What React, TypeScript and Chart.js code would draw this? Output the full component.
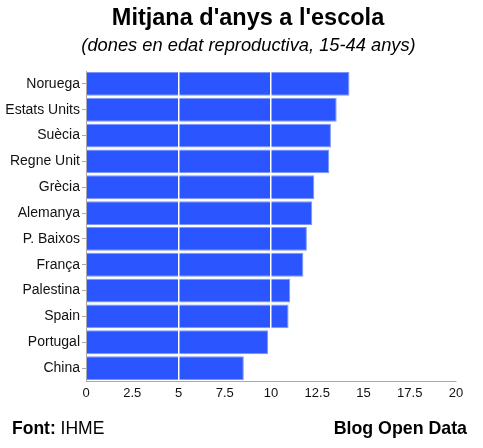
import React, { useEffect, useRef } from "react";
import { Chart, registerables } from "chart.js";

Chart.register(...registerables);

const TITLE = "Mitjana d'anys a l'escola";
const SUBTITLE = "(dones en edat reproductiva, 15-44 anys)";
const SOURCE_LABEL = "Font:";
const SOURCE = "IHME";
const CREDIT = "Blog Open Data";

const countries = [
  "Noruega",
  "Estats Units",
  "Suècia",
  "Regne Unit",
  "Grècia",
  "Alemanya",
  "P. Baixos",
  "França",
  "Palestina",
  "Spain",
  "Portugal",
  "China",
];
const years = [14.24, 13.55, 13.24, 13.15, 12.34, 12.23, 11.94, 11.75, 11.04, 10.95, 9.85, 8.53];

const FONT = "'Liberation Sans', Arial, Helvetica, sans-serif";

const textPlugin = {
  id: "texts",
  afterDraw(chart: any) {
    const c = chart.ctx;
    const w = chart.width;
    c.save();
    c.fillStyle = "#000";
    c.textBaseline = "middle";
    c.textAlign = "center";
    c.font = `bold 23.5px ${FONT}`;
    c.fillText(TITLE, 248, 19);
    c.font = `italic 18.3px ${FONT}`;
    c.fillText(SUBTITLE, 248.5, 46);
    c.textAlign = "left";
    c.font = `bold 17.5px ${FONT}`;
    c.fillText(SOURCE_LABEL, 12, 429);
    const lw = c.measureText(SOURCE_LABEL + " ").width;
    c.font = `17.5px ${FONT}`;
    c.fillText(SOURCE, 12 + lw, 429);
    c.textAlign = "right";
    c.font = `bold 17.8px ${FONT}`;
    c.fillText(CREDIT, 467, 429);
    c.restore();
  },
};

export default function App() {
  const ref = useRef<HTMLCanvasElement | null>(null);
  useEffect(() => {
    if (!ref.current) return;
    const chart = new Chart(ref.current, {
      type: "bar",
      data: {
        labels: countries,
        datasets: [
          {
            data: years,
            backgroundColor: "#2b55fe",
            borderColor: "#7b97ff",
            borderWidth: 1,
            barPercentage: 0.92,
            categoryPercentage: 1,
          },
        ],
      },
      options: {
        indexAxis: "y",
        responsive: false,
        animation: false,
        layout: { padding: { top: 71, right: 27, bottom: 37, left: 0 } },
        plugins: {
          legend: { display: false },
          tooltip: { enabled: false },
          title: { display: false },
        },
        scales: {
          x: {
            min: 0,
            max: 20,
            ticks: {
              stepSize: 2.5,
              color: "#111",
              font: { family: FONT, size: 13 },
              padding: 5,
              maxRotation: 0,
            },
            grid: {
              z: 1,
              drawTicks: false,
              lineWidth: 1.5,
              color: (ctx: any) => {
                const v = ctx.tick ? ctx.tick.value : 0;
                return v > 0 && v < 20 && v % 5 === 0 ? "#ffffff" : "rgba(0,0,0,0)";
              },
            },
            border: { display: true, color: "#aaa", width: 1, z: 2 },
            afterFit: (s: any) => {
              s.height = 30;
            },
          },
          y: {
            ticks: {
              color: "#111",
              font: { family: FONT, size: 14 },
              padding: 2,
            },
            grid: {
              offset: false,
              drawOnChartArea: false,
              drawTicks: true,
              tickLength: 4,
              color: "#aaa",
            },
            border: { display: true, color: "#aaa", width: 1, z: 2 },
            afterFit: (s: any) => {
              s.width = 86;
            },
          },
        },
      },
      plugins: [textPlugin],
    });
    return () => chart.destroy();
  }, []);
  return (
    <div style={{ position: "absolute", left: 0, top: 0, width: 483, height: 448, background: "#fff" }}>
      <canvas ref={ref} width={483} height={448} style={{ display: "block" }} />
    </div>
  );
}
